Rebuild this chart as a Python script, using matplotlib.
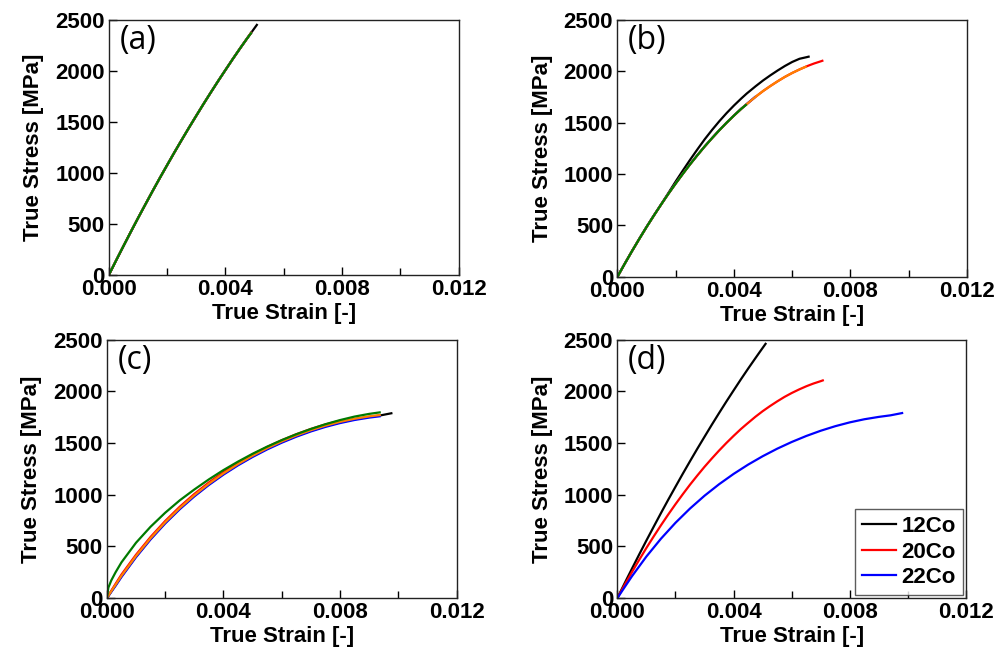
import matplotlib
matplotlib.use("Agg")
import matplotlib.pyplot as plt
from matplotlib.ticker import MultipleLocator

plt.rcParams['font.family'] = ['Liberation Sans', 'DejaVu Sans']

# ---------------- data ----------------
# (a) 12Co specimens
a_strain = [0, 0.00025, 0.0005, 0.00075, 0.001, 0.00125, 0.0015, 0.00175, 0.002, 0.00225,
            0.0025, 0.00275, 0.003, 0.00325, 0.0035, 0.00375, 0.004, 0.00425, 0.0045,
            0.00475, 0.0049, 0.0051]
a_black  = [0, 143, 283, 421, 557, 690, 822, 951, 1077, 1202, 1324, 1444, 1561, 1677,
            1790, 1901, 2009, 2116, 2220, 2321, 2381, 2460]
a_red    = [0, 142, 282, 420, 556, 689, 821, 950, 1076, 1201, 1323, 1443, 1560, 1676,
            1789, 1900, 2008, 2115, 2219, 2320, 2380, None]
a_blue   = [0, 143, 283, 421, 558, 691, 823, 952, 1078, 1203, 1325, 1445, 1562, 1678,
            1791, 1902, 2010, 2117, 2221, 2322, 2382, None]
a_orange = [0, 143, 284, 422, 558, 691, 823, 952, 1078, 1203, 1325, 1445, 1562, 1678,
            1791, 1902, 2010, 2117, 2221, 2322, 2383, None]
a_green  = [0, 143, 283, 421, 557, 690, 822, 951, 1077, 1202, 1324, 1444, 1561, 1677,
            1790, 1901, 2009, 2116, 2220, 2321, 2378, None]

# (b) 20Co specimens
b_strain = [0, 0.00025, 0.0005, 0.00075, 0.001, 0.00125, 0.0015, 0.00175, 0.002, 0.00225,
            0.0025, 0.00275, 0.003, 0.00325, 0.0035, 0.00375, 0.004, 0.00425, 0.00444,
            0.00475, 0.005, 0.00525, 0.0055, 0.00575, 0.006, 0.00625, 0.0065, 0.0066,
            0.00675, 0.007, 0.00707]
b_black  = [0, 127, 250, 369, 485, 596, 704, 816, 928, 1036, 1141, 1242, 1340, 1430,
            1515, 1594, 1667, 1735, 1784, 1856, 1911, 1961, 2008, 2052, 2091, 2122,
            2138, 2145, None, None, None]
b_red    = [0, 127, 250, 369, 485, 596, 704, 808, 908, 1004, 1097, 1185, 1270, 1350,
            1427, 1500, 1569, 1635, 1681, 1754, 1808, 1857, 1903, 1946, 1984, 2018,
            2049, 2060, 2076, 2099, 2106]
b_blue   = [0, 127, 250, 370, 486, 597, 705, 809, 909, 1005, 1098, 1186, 1271, 1351,
            1428, 1501, 1570, 1636, 1682, 1756, None, None, None, None, None, None,
            None, None, None, None, None]
b_orange = [0, 127, 250, 369, 485, 596, 704, 808, 908, 1004, 1097, 1185, 1270, 1350,
            1427, 1500, 1569, 1635, 1681, 1754, 1808, 1857, 1903, 1946, 1984, 2018,
            2049, None, None, None, None]
b_green  = [0, 127, 250, 369, 485, 596, 704, 808, 908, 1004, 1097, 1185, 1270, 1350,
            1427, 1500, 1569, 1635, 1679, None, None, None, None, None, None, None,
            None, None, None, None, None]

# (c) 22Co specimens
c_strain = [0, 0.00005, 0.00015, 0.0003, 0.0005, 0.001, 0.0015, 0.002, 0.0025, 0.003,
            0.0035, 0.004, 0.0045, 0.005, 0.0055, 0.006, 0.0065, 0.007, 0.0075, 0.008,
            0.0085, 0.009, 0.0094, 0.0098]
c_black  = [0, 20, 63, 126, 210, 402, 574, 728, 866, 990, 1101, 1201, 1291, 1372, 1445,
            1510, 1568, 1619, 1663, 1700, 1730, 1753, 1768, 1790]
c_red    = [0, 23, 70, 138, 227, 419, 591, 745, 883, 1007, 1118, 1218, 1308, 1389, 1462,
            1527, 1585, 1636, 1680, 1716, None, None, None, None]
c_blue   = [0, 18, 59, 119, 203, 395, 567, 721, 859, 983, 1094, 1194, 1284, 1365, 1438,
            1503, 1561, 1612, 1656, 1693, 1723, 1746, 1760, None]
c_orange = [0, 21, 65, 129, 215, 407, 579, 733, 871, 995, 1106, 1206, 1296, 1377, 1450,
            1515, 1573, 1624, 1668, 1705, 1735, 1758, 1772, None]
c_green  = [0, 100, 170, 250, 345, 535, 690, 825, 945, 1050, 1148, 1238, 1320, 1396,
            1465, 1528, 1585, 1636, 1682, 1722, 1756, 1782, 1798, None]

# (d) representative curves
d_labels = ['12Co', '20Co', '22Co']
d_colors = ['black', 'red', 'blue']

x_ticks = [0.000, 0.004, 0.008, 0.012]
x_ticklabels = ['0.000', '0.004', '0.008', '0.012']
y_ticks = [0, 500, 1000, 1500, 2000, 2500]

spec_colors = ['black', 'red', 'blue', '#ff8000', '#007a00']

# ---------------- figure ----------------
fig = plt.figure(figsize=(9.99, 6.64), dpi=100)
rects = {
    'a': [0.109, 0.586, 0.350, 0.384],
    'b': [0.618, 0.583, 0.350, 0.387],
    'c': [0.107, 0.0994, 0.350, 0.389],
    'd': [0.618, 0.0994, 0.349, 0.389],
}
axes = {k: fig.add_axes(r) for k, r in rects.items()}

def clean(xs, ys):
    pts = [(x, y) for x, y in zip(xs, ys) if y is not None]
    return [p[0] for p in pts], [p[1] for p in pts]

lw = 1.6
for key, strain, series in [
    ('a', a_strain, [a_black, a_red, a_blue, a_orange, a_green]),
    ('b', b_strain, [b_black, b_red, b_blue, b_orange, b_green]),
    ('c', c_strain, [c_black, c_red, c_blue, c_orange, c_green]),
]:
    ax = axes[key]
    for ys, col in zip(series, spec_colors):
        xs, yy = clean(strain, ys)
        ax.plot(xs, yy, color=col, lw=lw, solid_capstyle='butt', solid_joinstyle='round')

ax = axes['d']
for (strain, ys), lab, col in zip([(a_strain, a_black), (b_strain, b_red), (c_strain, c_black)],
                                   d_labels, d_colors):
    xs, yy = clean(strain, ys)
    ax.plot(xs, yy, color=col, lw=lw, label=lab, solid_joinstyle='round')
leg = ax.legend(loc='lower right', frameon=True, fancybox=False, edgecolor='#333333',
                prop={'weight': 'bold', 'size': 16}, handlelength=1.55, handletextpad=0.25,
                borderpad=0.3, labelspacing=0.2, borderaxespad=0.15)
leg.get_frame().set_linewidth(1.0)

for key, ax in axes.items():
    ax.set_xlim(0, 0.012)
    ax.set_ylim(0, 2500)
    ax.set_xticks(x_ticks)
    ax.set_xticklabels(x_ticklabels)
    ax.set_yticks(y_ticks)
    ax.xaxis.set_minor_locator(MultipleLocator(0.002))
    ax.tick_params(axis='both', which='major', direction='in', length=6, width=1,
                   labelsize=16, top=False, right=False, pad=3)
    ax.tick_params(axis='x', which='minor', direction='in', length=5, width=1, top=False)
    for lab in ax.get_xticklabels() + ax.get_yticklabels():
        lab.set_fontweight('bold')
    for sp in ax.spines.values():
        sp.set_linewidth(1.0)
        sp.set_color('#222222')
    ax.set_xlabel('True Strain [-]', fontsize=16, fontweight='bold', labelpad=2)
    ax.set_ylabel('True Stress [MPa]', fontsize=16, fontweight='bold', labelpad=8)
    ax.text(0.03, 0.985, f'({key})', transform=ax.transAxes, ha='left', va='top',
            fontsize=23, family=['Open Sans', 'DejaVu Sans'])

fig.savefig('out.png', dpi=100)
